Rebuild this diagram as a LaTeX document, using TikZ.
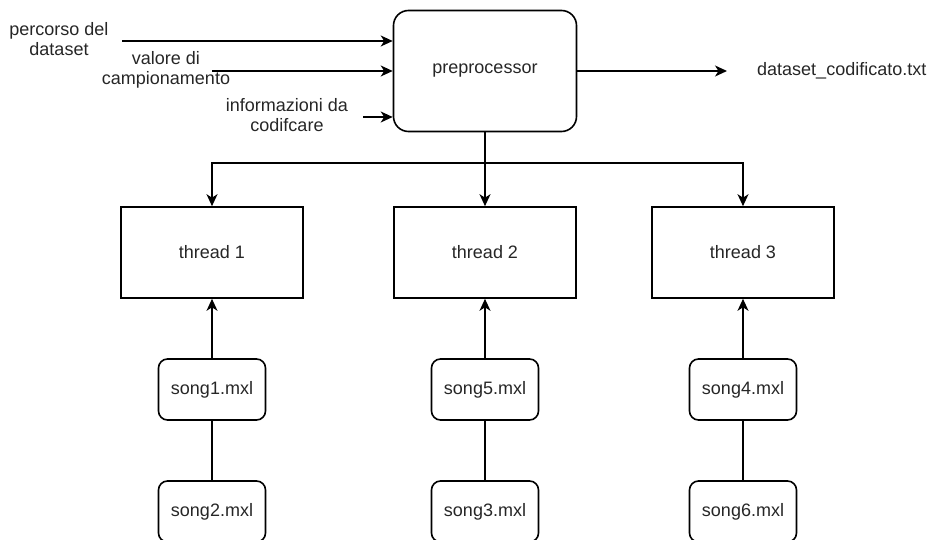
\documentclass[tikz,border=0pt]{standalone}
\usepackage{fontspec}
\setmainfont{Liberation Sans}
\usetikzlibrary{arrows.meta}

\begin{document}
\begin{tikzpicture}[x=1pt, y=-1pt,
  txt/.style={font=\fontsize{18}{20.5}\selectfont, text=black!85, inner sep=0pt, align=center},
  line/.style={draw=black, line width=1.6pt},
  arr/.style={line, -{Stealth[length=12pt, width=11pt, inset=3.5pt]}},
  procbox/.style={draw=black, line width=1.6pt, rounded corners=15pt,
    minimum width=183pt, minimum height=121pt, txt},
  threadbox/.style={draw=black, line width=1.6pt,
    minimum width=182pt, minimum height=91pt, txt},
  songbox/.style={draw=black, line width=1.6pt, rounded corners=9pt,
    minimum width=107pt, minimum height=61pt, txt}
]
\useasboundingbox (0,0) rectangle (930,540);

% central preprocessing block
\node[procbox] (prep) at (485,71) {preprocessor};

% worker threads
\node[threadbox] (t1) at (212,252.5) {thread 1};
\node[threadbox] (t2) at (485,252.5) {thread 2};
\node[threadbox] (t3) at (743,252.5) {thread 3};

% input files per thread
\node[songbox] (s1) at (212,389.5) {song1.mxl};
\node[songbox] (s2) at (212,511.5) {song2.mxl};
\node[songbox] (s5) at (485,389.5) {song5.mxl};
\node[songbox] (s3) at (485,511.5) {song3.mxl};
\node[songbox] (s4) at (743,389.5) {song4.mxl};
\node[songbox] (s6) at (743,511.5) {song6.mxl};

% inputs of the preprocessor
\coordinate (in1) at (122,41);
\coordinate (in2) at (212,71);
\coordinate (in3) at (363,117);
\node[txt] (l1) at (59,39) {percorso del\\dataset};
\node[txt] (l2) at (166,70) {valore di\\campionamento};
\node[txt] (l3) at (287,115) {informazioni da\\codifcare};
\draw[arr] (in1) -- (in1 -| prep.west);
\draw[arr] (in2) -- (in2 -| prep.west);
\draw[arr] (in3) -- (in3 -| prep.west);

% output of the preprocessor
\coordinate (out) at (727,71);
\draw[arr] (prep.east) -- (out);
\node[txt, anchor=west] (lout) at (757,71) {dataset\_codificato.txt};

% distribution to the threads
\coordinate (bus) at (485,163);
\draw[arr] (prep.south) -- (t2.north);
\draw[arr] (bus) -| (t1.north);
\draw[arr] (bus) -| (t3.north);

% songs feeding the threads
\draw[arr] (s1.north) -- (t1.south);
\draw[arr] (s5.north) -- (t2.south);
\draw[arr] (s4.north) -- (t3.south);
\draw[line] (s1.south) -- (s2.north);
\draw[line] (s5.south) -- (s3.north);
\draw[line] (s4.south) -- (s6.north);
\end{tikzpicture}
\end{document}
